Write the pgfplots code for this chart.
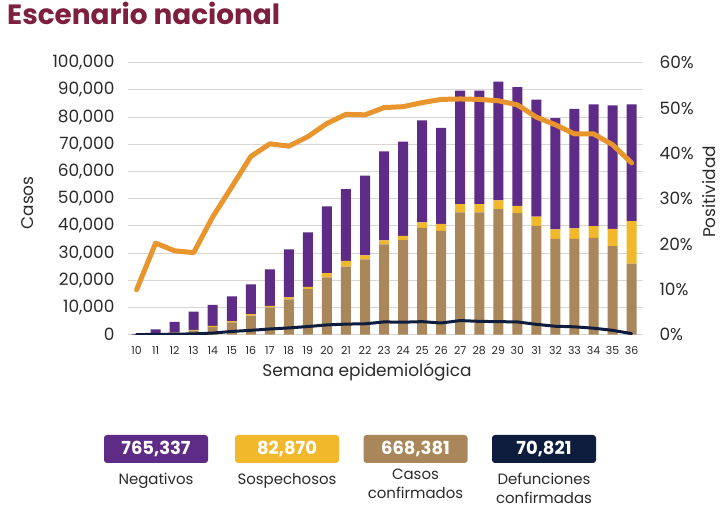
\documentclass[border=0pt]{standalone}
\usepackage{fontspec}
\setmainfont{Poppins}
\usepackage{pgfplots}
\pgfplotsset{compat=1.18}
\usepackage{pgfplotstable}
\definecolor{cneg}{HTML}{5E2B87}
\definecolor{csus}{HTML}{F2B82C}
\definecolor{cconf}{HTML}{A9875A}
\definecolor{cdef}{HTML}{0E1D3E}
\definecolor{cpos}{HTML}{E9952D}
\definecolor{ctitle}{HTML}{7E1F3F}
\definecolor{ctxt}{HTML}{2B2B2B}
\definecolor{cgrid}{HTML}{D8D6D3}

\pgfplotstableread{
wk conf susp neg death pos
10 50 20 200 50 9.9
11 300 150 1550 100 20.2
12 600 200 3900 200 18.5
13 1500 300 6700 300 18.1
14 2800 400 7800 600 26.0
15 4500 500 9100 1200 32.6
16 7000 600 10900 1600 39.3
17 10000 600 13400 2100 42.1
18 13000 700 17700 2500 41.6
19 16800 800 20000 3000 43.7
20 21100 1500 24600 3600 46.6
21 25000 2100 26400 3900 48.6
22 27700 1500 29300 4000 48.5
23 33200 1500 32700 4700 50.1
24 34800 1500 34700 4600 50.3
25 39300 2000 37500 4800 51.2
26 38200 2500 35300 4300 51.9
27 45000 3000 41700 5200 52.0
28 45000 3000 41700 4900 51.9
29 46200 3200 43600 4800 51.6
30 44700 2700 43600 4700 50.7
31 40000 3400 43000 3800 48.0
32 35200 3500 40900 3100 46.3
33 35200 3900 43900 2900 44.3
34 35600 4300 44800 2400 44.3
35 32600 6300 45400 1600 41.9
36 26100 15700 42900 400 37.9
}\data

\begin{document}
\begin{tikzpicture}
\fill[white] (0,0) rectangle (728bp,507bp);

% bars
\begin{axis}[
  at={(128bp,172.3bp)}, anchor=south west,
  scale only axis, width=515bp, height=272bp,
  xmin=9.55, xmax=36.6, ymin=0, ymax=100000,
  ybar stacked, bar width=10bp,
  axis line style={draw=none}, major tick length=0pt,
  ymajorgrids, grid style={cgrid, line width=1bp},
  scaled y ticks=false, scaled x ticks=false,
  xtick={10,11,12,13,14,15,16,17,18,19,20,21,22,23,24,25,26,27,28,29,30,31,32,33,34,35,36},
  xticklabels={10,11,12,13,14,15,16,17,18,19,20,21,22,23,24,25,26,27,28,29,30,31,32,33,34,35,36},
  ytick={0,10000,20000,30000,40000,50000,60000,70000,80000,90000,100000},
  yticklabels={0,{10,000},{20,000},{30,000},{40,000},{50,000},{60,000},{70,000},{80,000},{90,000},{100,000}},
  xticklabel style={font=\fontsize{11}{13}\selectfont, text=ctxt, yshift=-8bp},
  yticklabel style={font=\fontsize{17}{20}\selectfont, text=ctxt, xshift=-10bp},
]
\addplot[fill=cconf, draw=none] table[x=wk, y=conf] {\data};
\addplot[fill=csus, draw=none] table[x=wk, y=susp] {\data};
\addplot[fill=cneg, draw=none] table[x=wk, y=neg] {\data};
\end{axis}

% positivity
\begin{axis}[
  at={(128bp,172.3bp)}, anchor=south west,
  scale only axis, width=515bp, height=272bp,
  xmin=9.55, xmax=36.6, ymin=0, ymax=60,
  axis x line=none, axis y line*=right,
  axis line style={draw=none}, major tick length=0pt,
  ytick={0,10,20,30,40,50,60},
  yticklabels={0\%,10\%,20\%,30\%,40\%,50\%,60\%},
  yticklabel style={font=\fontsize{17}{20}\selectfont, text=ctxt, xshift=13bp},
]
\addplot[cpos, line width=5bp, line join=round, line cap=round] table[x=wk, y=pos] {\data};
\end{axis}

% deaths
\begin{axis}[
  at={(128bp,172.3bp)}, anchor=south west,
  scale only axis, width=515bp, height=272bp,
  xmin=9.55, xmax=36.6, ymin=0, ymax=100000,
  hide axis,
]
\addplot[cdef, line width=3bp, line join=round, line cap=round] table[x=wk, y=death] {\data};
\end{axis}

% title and labels
\node[anchor=base west, font=\fontsize{28}{32}\bfseries\selectfont, text=ctitle, inner sep=0] at (7bp,482bp) {Escenario nacional};
\node[rotate=90, font=\fontsize{17}{20}\selectfont, text=ctxt] at (28bp,304bp) {Casos};
\node[rotate=90, font=\fontsize{17}{20}\selectfont, text=ctxt] at (709bp,315bp) {Positividad};
\node[font=\fontsize{17}{20}\selectfont, text=ctxt] at (367bp,135bp) {Semana epidemiológica};

% summary boxes
\fill[cneg, rounded corners=3bp] (104bp,44bp) rectangle (208bp,72bp);
\fill[csus, rounded corners=3bp] (235bp,44bp) rectangle (339bp,72bp);
\fill[cconf, rounded corners=3bp] (363.5bp,44bp) rectangle (467.5bp,72bp);
\fill[cdef, rounded corners=3bp] (492bp,44bp) rectangle (596bp,72bp);
\node[font=\fontsize{18}{20}\bfseries\selectfont, text=white] at (156bp,58bp) {765,337};
\node[font=\fontsize{18}{20}\bfseries\selectfont, text=white] at (287bp,58bp) {82,870};
\node[font=\fontsize{18}{20}\bfseries\selectfont, text=white] at (415.5bp,58bp) {668,381};
\node[font=\fontsize{18}{20}\bfseries\selectfont, text=white] at (544bp,58bp) {70,821};
\node[font=\fontsize{15}{20}\selectfont, text=ctxt] at (156bp,26.3bp) {Negativos};
\node[font=\fontsize{15}{20}\selectfont, text=ctxt] at (287bp,26.3bp) {Sospechosos};
\node[font=\fontsize{15}{19}\selectfont, text=ctxt, align=center, inner sep=0pt] at (415.5bp,23.5bp) {Casos\\confirmados};
\node[font=\fontsize{15}{19}\selectfont, text=ctxt, align=center, inner sep=0pt] at (544bp,19bp) {Defunciones\\confirmadas};
\end{tikzpicture}
\end{document}
